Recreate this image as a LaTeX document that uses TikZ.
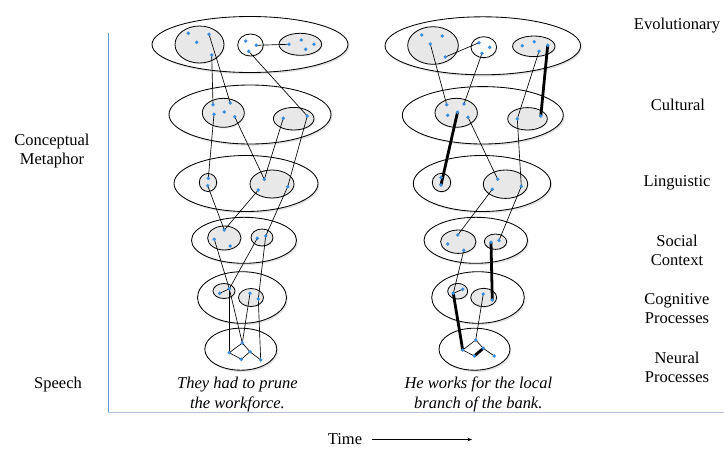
\documentclass[tikz,border=0pt]{standalone}
\usepackage{fontspec}
\setmainfont{Liberation Serif}
\usetikzlibrary{shadows,arrows.meta}

\definecolor{dotblue}{RGB}{59,142,219}
\definecolor{subgray}{RGB}{232,232,232}
\definecolor{axisblue}{RGB}{91,155,213}
\definecolor{axislight}{RGB}{176,196,222}

\tikzset{
  layerell/.style={draw, line width=0.85, fill=white, drop shadow={opacity=0.22, shadow xshift=1.3pt, shadow yshift=-1.8pt}},
  subset/.style={draw, line width=0.8, fill=subgray, drop shadow={opacity=0.15, shadow xshift=1pt, shadow yshift=-1.2pt}},
  subwhite/.style={subset, fill=white},
  link/.style={line width=0.65},
  boldlink/.style={line width=2.8, line cap=round},
  lbl/.style={align=center, inner sep=0pt, font=\fontsize{16.5}{19.5}\selectfont},
  sent/.style={lbl, font=\fontsize{16.5}{19.5}\selectfont\itshape},
}

\begin{document}
\begin{tikzpicture}[x=1pt,y=-1pt]
\useasboundingbox (0,0) rectangle (724,448);

% units, left stack
\coordinate (le1) at (188.3,33.3); \coordinate (le2) at (196.7,42.3); \coordinate (le3) at (209,34.3);
\coordinate (le4) at (211.7,55); \coordinate (le5) at (245.7,41); \coordinate (le6) at (256.3,45.3);
\coordinate (le7) at (248.7,51.3); \coordinate (le8) at (289,44.3); \coordinate (le9) at (301.3,40);
\coordinate (le10) at (314,44.3); \coordinate (le11) at (305.7,49.3);
\coordinate (lc1) at (213,104.7); \coordinate (lc2) at (230.3,103); \coordinate (lc3) at (224.3,112);
\coordinate (lc4) at (214,114.3); \coordinate (lc5) at (234.7,116.7); \coordinate (lc6) at (283.3,118.3);
\coordinate (lc7) at (307.3,116);
\coordinate (lg1) at (208.3,178.3); \coordinate (lg2) at (207.7,185.7); \coordinate (lg3) at (264.3,179.3);
\coordinate (lg4) at (258.3,190); \coordinate (lg5) at (287.7,186.7);
\coordinate (ls1) at (224.3,230); \coordinate (ls2) at (214.3,239.3); \coordinate (ls3) at (230.3,246);
\coordinate (ls4) at (257.3,238.3); \coordinate (ls5) at (265.7,236);
\coordinate (lp1) at (219.7,293.3); \coordinate (lp2) at (229.3,288.8); \coordinate (lp3) at (250,293.3);
\coordinate (lp4) at (258.3,299);
\coordinate (ln1) at (242.3,343); \coordinate (ln2) at (229.3,352.7); \coordinate (ln3) at (241.3,359.3);
\coordinate (ln4) at (250,351.7); \coordinate (ln5) at (260.7,360);

% units, right stack
\coordinate (re1) at (421.7,35); \coordinate (re2) at (442.3,36); \coordinate (re3) at (430.3,44);
\coordinate (re4) at (445.3,57); \coordinate (re5) at (479,42.7); \coordinate (re6) at (489.7,47.3);
\coordinate (re7) at (482,53.3); \coordinate (re8) at (522.3,45.7); \coordinate (re9) at (534.3,41.7);
\coordinate (re10) at (547.7,45.3); \coordinate (re11) at (539,51.3);
\coordinate (rc1) at (446.7,104.7); \coordinate (rc2) at (464,104); \coordinate (rc3) at (457.5,112.3);
\coordinate (rc4) at (447.7,115.3); \coordinate (rc5) at (468,117.3); \coordinate (rc6) at (517.3,118.8);
\coordinate (rc7) at (540.8,116);
\coordinate (rg1) at (441,177.5); \coordinate (rg2) at (441,185); \coordinate (rg3) at (497.7,179.2);
\coordinate (rg4) at (492.3,189.3); \coordinate (rg5) at (521.3,186.3);
\coordinate (rs1) at (457.8,235); \coordinate (rs2) at (447.7,244); \coordinate (rs3) at (463.8,250.3);
\coordinate (rs4) at (491,242.3); \coordinate (rs5) at (499,240.5);
\coordinate (rp1) at (453.3,293.3); \coordinate (rp2) at (462.7,289.3); \coordinate (rp3) at (483.3,294);
\coordinate (rp4) at (492.3,300);
\coordinate (rn1) at (475.7,340); \coordinate (rn2) at (462.7,350); \coordinate (rn3) at (474.3,356);
\coordinate (rn4) at (483.3,348.3); \coordinate (rn5) at (494.3,356);

%Shape: Ellipse -- left stack
\path[layerell] (250,44.5) ellipse [x radius=98, y radius=28];
\path[subset] (199.5,44.5) ellipse [x radius=24.5, y radius=18.5];
\path[subwhite] (250.5,45) ellipse [x radius=12.8, y radius=11];
\path[subset] (300.3,44.3) ellipse [x radius=21.3, y radius=11];
\path[layerell] (250,114.5) ellipse [x radius=81, y radius=29.5];
\path[subset] (223.3,112.8) ellipse [x radius=21, y radius=14.5];
\path[subset] (293.7,118.7) ellipse [x radius=20.3, y radius=11.3];
\path[layerell] (246,183.5) ellipse [x radius=72, y radius=28];
\path[subset] (208,182.5) ellipse [x radius=8.7, y radius=9];
\path[subset] (272,184) ellipse [x radius=22, y radius=14];
\path[layerell] (244,240.3) ellipse [x radius=52.5, y radius=23];
\path[subset] (224.3,238) ellipse [x radius=16.7, y radius=12];
\path[subset] (262,237.5) ellipse [x radius=11, y radius=8.5];
\path[layerell] (242,297.5) ellipse [x radius=44.5, y radius=25.8];
\path[subset] (224,291) ellipse [x radius=11, y radius=7.5];
\path[subset] (251,297.5) ellipse [x radius=12.5, y radius=9];
\path[layerell] (240.8,349.2) ellipse [x radius=36, y radius=21];

%Shape: Ellipse -- right stack
\path[layerell] (482.8,45.8) ellipse [x radius=97.8, y radius=29];
\path[subset] (433,45.5) ellipse [x radius=25.3, y radius=18.8];
\path[subwhite] (483.8,47.2) ellipse [x radius=12.8, y radius=10.5];
\path[subset] (533.8,46.3) ellipse [x radius=21.2, y radius=10.3];
\path[layerell] (482.8,115.3) ellipse [x radius=80.5, y radius=28.7];
\path[subset] (456.2,112.8) ellipse [x radius=21.2, y radius=14.5];
\path[subset] (527.5,118.8) ellipse [x radius=19.8, y radius=11.2];
\path[layerell] (482,183.5) ellipse [x radius=68.7, y radius=28];
\path[subset] (441.5,182.5) ellipse [x radius=9.2, y radius=9.2];
\path[subset] (505.5,184.2) ellipse [x radius=22.2, y radius=14.2];
\path[layerell] (475.8,240.3) ellipse [x radius=51.8, y radius=23];
\path[subset] (458.3,241.7) ellipse [x radius=17.7, y radius=11.7];
\path[subset] (495.5,241.7) ellipse [x radius=11.2, y radius=7.7];
\path[layerell] (478,297.5) ellipse [x radius=46.3, y radius=25.8];
\path[subset] (457.7,291.2) ellipse [x radius=10, y radius=7.8];
\path[subset] (483.7,297.5) ellipse [x radius=13, y radius=9.2];
\path[layerell] (474.5,349.2) ellipse [x radius=35.5, y radius=21];

%Straight Lines -- left stack
\draw[link] (le6) -- (le8);
\draw[link] (le3) -- (lc2);
\draw[link] (le4) -- (lc1);
\draw[link] (le7) -- (lc7);
\draw[link] (lc4) -- (lg1);
\draw[link] (lc5) -- (lg3);
\draw[link] (lc6) -- (lg3);
\draw[link] (lc7) -- (lg5);
\draw[link] (lg2) -- (ls1);
\draw[link] (lg4) -- (ls1);
\draw[link] (lg5) -- (ls5);
\draw[link] (ls2) -- (lp2);
\draw[link] (ls4) -- (lp2);
\draw[link] (ls5) -- (lp4);
\draw[link] (lp1) -- (lp2);
\draw[link] (lp2) -- (ln1);
\draw[link] (lp2) -- (ln2);
\draw[link] (lp3) -- (ln1);
\draw[link] (lp4) -- (ln5);
\draw[link] (ln2) -- (ln1) -- (ln4) -- (ln3) -- cycle;
\draw[link] (ln4) -- (ln5);

%Straight Lines -- right stack
\draw[link] (re4) -- (re5);
\draw[link] (re3) -- (rc1);
\draw[link] (re7) -- (rc2);
\draw[link] (re11) -- (rc6);
\draw[boldlink] (re10) -- (rc7);
\draw[boldlink] (rc3) -- (rg2);
\draw[link] (rc5) -- (rg3);
\draw[link] (rc6) -- (rg5);
\draw[link] (rg4) -- (rs1);
\draw[link] (rg5) -- (rs5);
\draw[link] (rs3) -- (rp1);
\draw[boldlink] (rs4) -- (rp4);
\draw[link] (rp1) -- (rp2);
\draw[link] (rp3) -- (rn1);
\draw[boldlink] (rp1) -- (rn2);
\draw[link] (rn2) -- (rn1) -- (rn4);
\draw[link] (rn2) -- (rn3);
\draw[boldlink] (rn3) -- (rn4);
\draw[link] (rn4) -- (rn5);

%Shape: Circle -- units
\foreach \p in {le1,le2,le3,le4,le5,le6,le7,le8,le9,le10,le11,
                lc1,lc2,lc3,lc4,lc5,lc6,lc7,lg1,lg2,lg3,lg4,lg5,
                ls1,ls2,ls3,ls4,ls5,lp1,lp2,lp3,lp4,ln1,ln2,ln3,ln4,ln5,
                re1,re2,re3,re4,re5,re6,re7,re8,re9,re10,re11,
                rc1,rc2,rc3,rc4,rc5,rc6,rc7,rg1,rg2,rg3,rg4,rg5,
                rs1,rs2,rs3,rs4,rs5,rp1,rp2,rp3,rp4,rn1,rn2,rn3,rn4,rn5}
  \fill[dotblue] (\p) circle [radius=1.9];

% axes
\coordinate (axtop) at (108.3,33);
\coordinate (axorg) at (108.3,412.5);
\coordinate (axend) at (724,412.5);
\draw[axisblue, line width=0.9] (axtop) -- (axorg);
\draw[axislight, line width=1] (axorg) -- (axend);

% Text Node
\node[lbl] (evo) at (677,26) {Evolutionary};
\node[lbl] (cult) at (678,105) {Cultural};
\node[lbl] (ling) at (677,183) {Linguistic};
\node[lbl] (soc) at (677,250.5) {Social\\Context};
\node[lbl] (cog) at (677,308.5) {Cognitive\\Processes};
\node[lbl] (neur) at (677,367.5) {Neural\\Processes};
\node[lbl] (concept) at (52,151) {Conceptual\\Metaphor};
\node[lbl] (speech) at (58,385) {Speech};
\node[sent] (pruneex) at (237.5,394.5) {They had to prune\\the workforce.};
\node[sent] (branchex) at (478.3,394.5) {He works for the local\\branch of the bank.};
\node[lbl] (time) at (345,439.5) {Time};
\coordinate (tend) at (472,439.5);
\draw[-{Stealth[length=4.5pt,width=3.5pt]}, line width=0.6] ([xshift=10pt]time.east) -- (tend);

\end{tikzpicture}
\end{document}
